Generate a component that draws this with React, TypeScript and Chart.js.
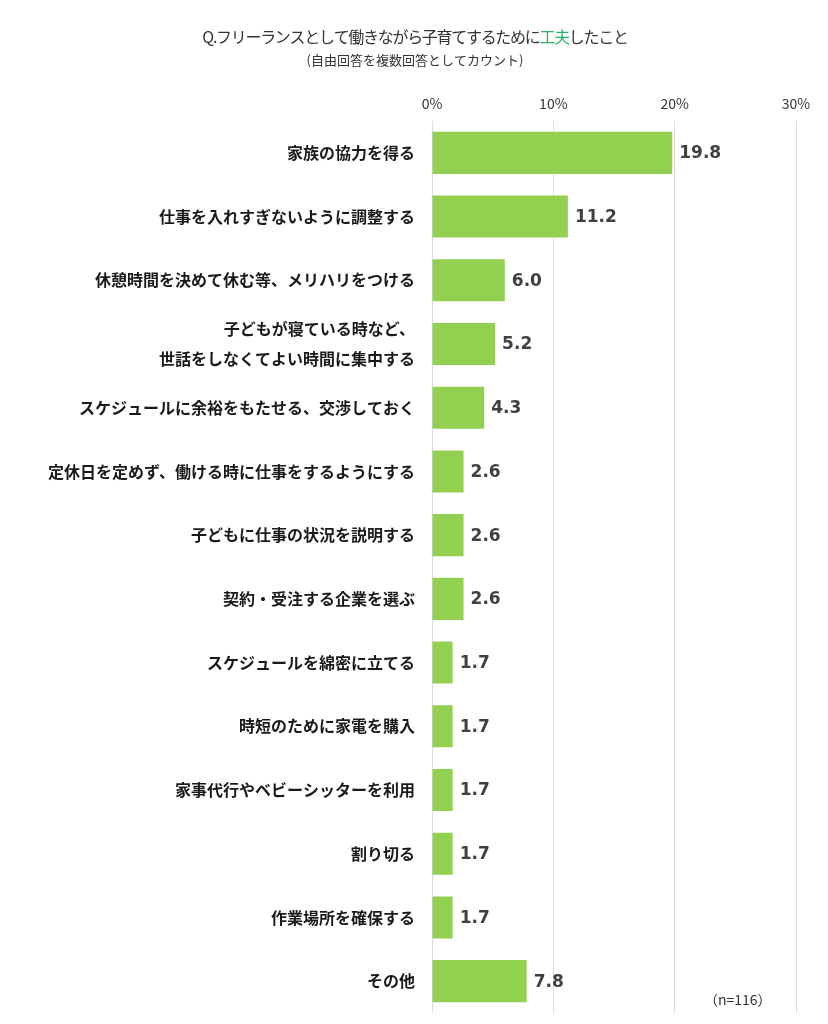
import React, { useEffect, useRef } from "react";
import { Chart, registerables } from "chart.js";

Chart.register(...registerables);

const categories: (string | string[])[] = [
  "家族の協力を得る",
  "仕事を入れすぎないように調整する",
  "休憩時間を決めて休む等、メリハリをつける",
  ["子どもが寝ている時など、", "世話をしなくてよい時間に集中する"],
  "スケジュールに余裕をもたせる、交渉しておく",
  "定休日を定めず、働ける時に仕事をするようにする",
  "子どもに仕事の状況を説明する",
  "契約・受注する企業を選ぶ",
  "スケジュールを綿密に立てる",
  "時短のために家電を購入",
  "家事代行やベビーシッターを利用",
  "割り切る",
  "作業場所を確保する",
  "その他",
];

const values: number[] = [19.8, 11.2, 6.0, 5.2, 4.3, 2.6, 2.6, 2.6, 1.7, 1.7, 1.7, 1.7, 1.7, 7.8];

const xTicks: number[] = [0, 10, 20, 30];

const titleParts: { text: string; color: string }[] = [
  { text: "Q.フリーランスとして働きながら子育てするために", color: "#333333" },
  { text: "工夫", color: "#2fb36a" },
  { text: "したこと", color: "#333333" },
];
const subtitle = "(自由回答を複数回答としてカウント)";
const sampleNote = "（n=116）";

const JP = '"Noto Sans CJK JP", "Noto Sans", sans-serif';

const overlayPlugin = {
  id: "overlay",
  afterDraw(chart: any) {
    const ctx = chart.ctx as CanvasRenderingContext2D;
    ctx.save();
    // title
    ctx.font = `16px ${JP}`;
    (ctx as any).letterSpacing = "-1.3px";
    ctx.textBaseline = "middle";
    ctx.textAlign = "left";
    const widths = titleParts.map((p) => ctx.measureText(p.text).width);
    const total = widths.reduce((a, b) => a + b, 0);
    let x = 415 - total / 2;
    titleParts.forEach((p, i) => {
      ctx.fillStyle = p.color;
      ctx.fillText(p.text, x, 37);
      x += widths[i];
    });
    (ctx as any).letterSpacing = "0px";
    ctx.font = `13px ${JP}`;
    ctx.fillStyle = "#333333";
    ctx.textAlign = "center";
    ctx.fillText(subtitle, 415, 60);
    // value labels
    const meta = chart.getDatasetMeta(0);
    ctx.font = 'bold 17px "DejaVu Sans", sans-serif';
    ctx.fillStyle = "#404040";
    ctx.textAlign = "left";
    meta.data.forEach((bar: any, i: number) => {
      ctx.fillText(values[i].toFixed(1), bar.x + 7, bar.y + 1);
    });
    // n note
    ctx.font = `14px ${JP}`;
    ctx.fillStyle = "#333333";
    ctx.textAlign = "left";
    ctx.fillText(sampleNote, 704, 1000);
    ctx.restore();
  },
};

export default function App() {
  const ref = useRef<HTMLCanvasElement | null>(null);
  useEffect(() => {
    document.body.style.margin = "0";
    const canvas = ref.current!;
    const chart = new Chart(canvas, {
      type: "bar",
      data: {
        labels: categories,
        datasets: [
          {
            data: values,
            backgroundColor: "#92d050",
            barPercentage: 0.66,
            categoryPercentage: 1,
          },
        ],
      },
      options: {
        indexAxis: "y",
        responsive: false,
        animation: false,
        layout: { padding: { left: 0, right: 32, top: 0, bottom: 11 } },
        plugins: {
          legend: { display: false },
          tooltip: { enabled: false },
          title: { display: false },
        },
        scales: {
          x: {
            position: "top",
            min: 0,
            max: 30,
            afterBuildTicks: (scale: any) => {
              scale.ticks = xTicks.map((v) => ({ value: v }));
            },
            afterFit: (scale: any) => {
              scale.height = 121;
            },
            ticks: {
              callback: (v: any) => `${v}%`,
              color: "#333333",
              font: { family: JP, size: 14 },
              padding: 9,
            },
            grid: { color: "#dcdcdc", drawTicks: false, lineWidth: 1 },
            border: { display: false },
          },
          y: {
            afterFit: (scale: any) => {
              scale.width = 432;
              scale.paddingTop = 0;
              scale.paddingBottom = 0;
            },
            ticks: {
              autoSkip: false,
              color: "#1a1a1a",
              font: { family: JP, size: 16, weight: "bold", lineHeight: 1.9 },
              padding: 17,
            },
            grid: { display: false, drawTicks: false },
            border: { display: false },
          },
        },
      },
      plugins: [overlayPlugin],
    } as any);
    return () => chart.destroy();
  }, []);
  return <canvas ref={ref} width={828} height={1024} style={{ display: "block" }} />;
}
